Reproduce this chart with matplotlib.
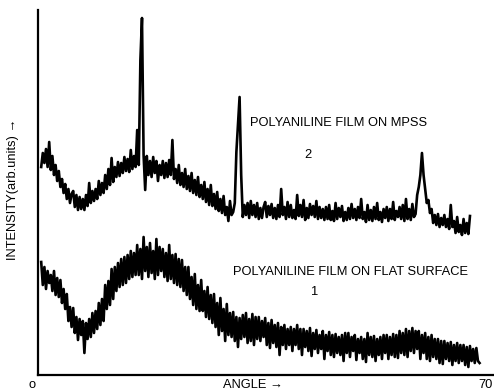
""" XRD patterns of polyaniline films """
import matplotlib
matplotlib.use('Agg')
import matplotlib.pyplot as plt
import numpy as np

plt.rcParams['font.family'] = ['Liberation Sans', 'DejaVu Sans']

# scan angle, 0.25 degree step
angle = np.arange(0.5, 69.01, 0.25)

# curve 2: polyaniline film on MPSS (arb. units)
mpss = [
    208, 222, 212, 226, 208, 233, 205, 219, 200, 210, 194, 204, 188, 196, 182, 191, 176, 186, 172, 181,
    184, 168, 180, 165, 178, 166, 176, 165, 180, 169, 192, 172, 184, 174, 186, 176, 194, 180, 192, 182,
    200, 186, 206, 190, 217, 193, 208, 198, 213, 199, 212, 202, 218, 204, 216, 203, 225, 206, 219, 208,
    245, 210, 315, 357, 220, 185, 219, 200, 214, 198, 218, 202, 214, 194, 210, 200, 214, 197, 212, 198,
    215, 200, 235, 196, 206, 192, 210, 190, 202, 188, 206, 186, 199, 184, 202, 182, 195, 180, 198, 178,
    190, 176, 193, 173, 186, 170, 190, 169, 181, 166, 183, 164, 176, 162, 179, 160, 168, 154, 174, 160,
    163, 172, 223, 250, 278, 200, 158, 170, 160, 172, 157, 174, 160, 170, 158, 172, 156, 167, 157, 168,
    173, 158, 169, 160, 171, 157, 167, 156, 170, 158, 186, 160, 168, 156, 173, 158, 170, 157, 165, 156,
    180, 159, 170, 158, 175, 155, 167, 157, 171, 160, 169, 158, 174, 156, 168, 157, 166, 155, 168, 156,
    170, 155, 164, 154, 172, 156, 167, 158, 169, 154, 163, 155, 167, 156, 171, 157, 166, 155, 168, 157,
    176, 156, 163, 153, 170, 155, 165, 154, 168, 156, 172, 155, 163, 153, 166, 157, 168, 154, 166, 156,
    173, 155, 164, 158, 168, 156, 170, 154, 176, 156, 166, 155, 171, 158, 161, 180, 188, 200, 222, 200,
    186, 172, 175, 162, 166, 152, 160, 150, 161, 148, 157, 150, 160, 148, 156, 146, 170, 148, 154, 142,
    158, 143, 150, 140, 156, 142, 152, 141, 159,
]

# curve 1: polyaniline film on flat surface (arb. units)
flat = [
    113, 90, 108, 86, 104, 92, 100, 84, 104, 80, 97, 78, 95, 72, 86, 66, 81, 54, 68, 48,
    67, 42, 58, 35, 56, 40, 54, 22, 52, 36, 56, 38, 62, 42, 64, 46, 72, 50, 76, 54,
    90, 66, 94, 70, 106, 76, 108, 84, 112, 88, 116, 90, 118, 92, 120, 96, 124, 98, 122, 100,
    130, 100, 126, 96, 138, 104, 128, 98, 132, 102, 124, 96, 136, 100, 128, 104, 126, 98, 122, 94,
    130, 96, 120, 92, 121, 90, 116, 88, 115, 84, 108, 80, 108, 76, 98, 70, 101, 66, 90, 64,
    95, 64, 84, 58, 88, 56, 80, 52, 81, 48, 72, 40, 77, 44, 66, 34, 71, 40, 62, 38,
    63, 34, 58, 28, 57, 36, 60, 38, 62, 32, 56, 34, 61, 30, 58, 36, 58, 34, 54, 38,
    57, 30, 52, 27, 55, 32, 50, 28, 52, 20, 48, 30, 50, 26, 46, 30, 48, 24, 46, 30,
    50, 26, 46, 20, 46, 28, 44, 24, 47, 19, 42, 26, 45, 22, 40, 26, 44, 16, 40, 24,
    43, 20, 40, 18, 41, 22, 38, 20, 40, 14, 42, 22, 42, 18, 38, 24, 40, 15, 36, 22,
    38, 16, 36, 13, 42, 20, 38, 18, 39, 14, 36, 20, 38, 16, 40, 22, 40, 16, 38, 20,
    41, 18, 40, 17, 44, 22, 42, 20, 46, 18, 44, 24, 47, 22, 44, 26, 44, 16, 40, 22,
    42, 16, 38, 14, 40, 18, 36, 16, 36, 12, 34, 11, 34, 16, 32, 14, 33, 10, 30, 14,
    32, 12, 30, 14, 30, 10, 28, 8, 29, 14, 26, 12, 27, 14, 12,
]

fig = plt.figure(figsize=(4.94, 3.92), dpi=100)
ax = fig.add_axes([38 / 494, 17 / 392, 455 / 494, 365 / 392])

ax.plot(angle[:len(mpss)], mpss, color='black', lw=1.9)
ax.plot(angle[:len(flat)], flat, color='black', lw=1.9)

ax.set_xlim(0, 71.1)
ax.set_ylim(0, 365)
ax.set_xticks([])
ax.set_yticks([])
for side in ['top', 'right']:
    ax.spines[side].set_visible(False)
for side in ['left', 'bottom']:
    ax.spines[side].set_linewidth(1.6)

ax.text(33.1, 252, 'POLYANILINE FILM ON MPSS', fontsize=9.3,
        ha='left', va='center')
ax.text(42.2, 220, '2', fontsize=9.3, ha='center', va='center')
ax.text(30.5, 103, 'POLYANILINE FILM ON FLAT SURFACE', fontsize=9.3,
        ha='left', va='center')
ax.text(43.3, 83, '1', fontsize=9.3, ha='center', va='center')

fig.text(253 / 494, 7 / 392, 'ANGLE \u2192', fontsize=9.3,
         ha='center', va='center')
fig.text(32 / 494, 7 / 392, 'o', fontsize=9.3, ha='center', va='center')
fig.text(493 / 494, 7 / 392, '70', fontsize=9.3, ha='right', va='center')
fig.text(13 / 494, 1 - 189 / 392, 'INTENSITY(arb.units) \u2192', fontsize=9.3,
         rotation=90, ha='center', va='center')

fig.savefig('out.png', dpi=100)
